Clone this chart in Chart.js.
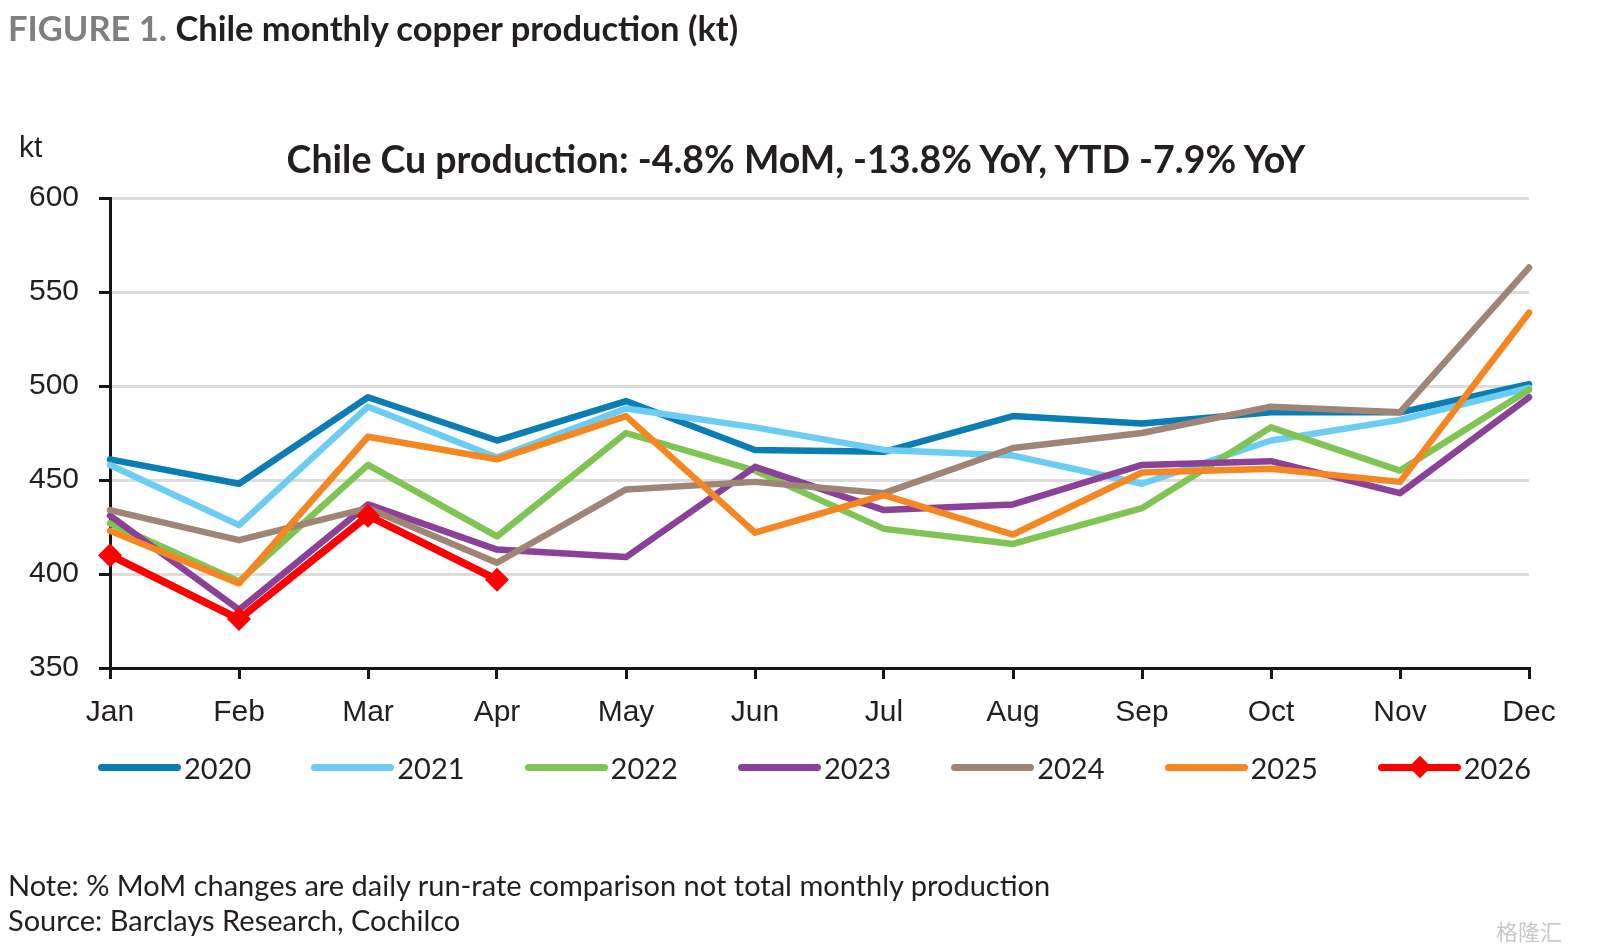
<!DOCTYPE html>
<html>
<head>
<meta charset="utf-8">
<script src="https://cdn.jsdelivr.net/npm/chart.js@4.4.1/dist/chart.umd.min.js"></script>
<style>
  html, body { margin: 0; padding: 0; background: #fff; }
  #page { position: relative; width: 1600px; height: 952px; overflow: hidden; font-family: Lato, "Noto Sans", sans-serif; color: #231f20; }
  #chart { position: absolute; left: 0; top: 0; }
  .txt { position: absolute; white-space: nowrap; }
  #fig { left: 8px; top: 7px; font-size: 34.5px; font-weight: 700; }
  #fig span { color: #7f7f7f; }
  #ctitle { left: 0; width: 1592px; text-align: center; top: 136px; font-size: 37.5px; font-weight: 700; }
  #unit { left: 19px; top: 130px; font-family: "Liberation Sans", Arial, sans-serif; font-size: 30px; }
  #note { left: 8px; top: 867px; font-size: 29px; line-height: 35px; }
  #wm { right: 38px; top: 914px; font-family: "Noto Sans CJK SC", sans-serif; font-size: 22px; color: #c9c9c9; }
  .lg { position: absolute; top: 750px; height: 34px; display: flex; align-items: center; font-size: 29px; }
  .lg .ln { position: relative; width: 83px; height: 7px; border-radius: 4px; margin-right: 3px; }
  .lg .dm { position: absolute; left: 34px; top: -5px; width: 16px; height: 16px; transform: rotate(45deg); }
</style>
</head>
<body>
<div id="page">
  <canvas id="chart" width="1600" height="952"></canvas>
  <div class="txt" id="fig"><span>FIGURE 1.</span> Chile monthly copper production (kt)</div>
  <div class="txt" id="ctitle">Chile Cu production: -4.8% MoM, -13.8% YoY, YTD -7.9% YoY</div>
  <div class="txt" id="unit">kt</div>
  <div class="txt" id="note">Note: % MoM changes are daily run-rate comparison not total monthly production<br>Source: Barclays Research, Cochilco</div>
  <div class="txt" id="wm">格隆汇</div>
  <div id="legend"></div>
</div>
<script>
// months on the x axis
const months = ['Jan', 'Feb', 'Mar', 'Apr', 'May', 'Jun', 'Jul', 'Aug', 'Sep', 'Oct', 'Nov', 'Dec'];

// monthly production, kt
const y2020 = [461, 448, 494, 471, 492, 466, 465, 484, 480, 486, 486, 501];
const y2021 = [458, 426, 489, 462, 488, 478, 466, 463, 448, 471, 482, 499];
const y2022 = [427, 396, 458, 420, 475, 455, 424, 416, 435, 478, 455, 498];
const y2023 = [431, 381, 437, 413, 409, 457, 434, 437, 458, 460, 443, 494];
const y2024 = [434, 418, 435, 406, 445, 449, 443, 467, 475, 489, 486, 563];
const y2025 = [423, 395, 473, 461, 484, 422, 442, 421, 454, 456, 449, 539];
const y2026 = [410, 376, 431, 397];

const seriesNames = ['2020', '2021', '2022', '2023', '2024', '2025', '2026'];
const seriesData = [y2020, y2021, y2022, y2023, y2024, y2025, y2026];
const seriesColors = ['#0a7db4', '#6bcdf4', '#7ec553', '#8b4197', '#a08577', '#f6861f', '#ff0000'];

const yMin = 350, yMax = 600, yStep = 50;

const datasets = seriesNames.map((name, i) => {
  const isLast = name === '2026';
  return {
    label: name,
    data: seriesData[i],
    borderColor: seriesColors[i],
    backgroundColor: seriesColors[i],
    borderWidth: isLast ? 7.5 : 6.5,
    borderJoinStyle: 'round',
    borderCapStyle: 'round',
    pointStyle: 'rectRot',
    pointRadius: isLast ? 12 : 0,
    pointHoverRadius: isLast ? 12 : 0,
    pointBorderWidth: 0,
    tension: 0,
    clip: false,
    order: seriesNames.length - i  // later years drawn on top
  };
});

const axisColor = '#161616';
const labelFont = { family: '"Liberation Sans", Arial, sans-serif', size: 30 };

new Chart(document.getElementById('chart'), {
  type: 'line',
  data: { labels: months, datasets: datasets },
  options: {
    responsive: false,
    animation: false,
    events: [],
    layout: { padding: { top: 198, right: 71, bottom: 224, left: 0 } },
    plugins: { legend: { display: false }, tooltip: { enabled: false }, title: { display: false } },
    scales: {
      x: {
        offset: false,
        afterFit: s => { s.height = 60; },
        grid: { drawOnChartArea: false, color: axisColor, lineWidth: 3, tickLength: 11 },
        border: { color: axisColor, width: 3 },
        ticks: { font: labelFont, color: '#231f20', padding: 16, maxRotation: 0 }
      },
      y: {
        min: yMin,
        max: yMax,
        afterFit: s => { s.width = 110; },
        grid: {
          color: c => (c.tick && c.tick.value === yMin ? axisColor : '#dcdcdc'),
          lineWidth: 3,
          tickColor: axisColor,
          tickLength: 11
        },
        border: { color: axisColor, width: 3 },
        ticks: { stepSize: yStep, font: labelFont, color: '#231f20', padding: 20 }
      }
    }
  }
});

// legend row
const legend = document.getElementById('legend');
seriesNames.forEach((name, i) => {
  const item = document.createElement('div');
  item.className = 'lg';
  item.style.left = (98 + i * 213.3) + 'px';
  const ln = document.createElement('div');
  ln.className = 'ln';
  ln.style.background = seriesColors[i];
  if (name === '2026') {
    const dm = document.createElement('div');
    dm.className = 'dm';
    dm.style.background = seriesColors[i];
    ln.appendChild(dm);
  }
  item.appendChild(ln);
  item.appendChild(document.createTextNode(name));
  legend.appendChild(item);
});
</script>
</body>
</html>
